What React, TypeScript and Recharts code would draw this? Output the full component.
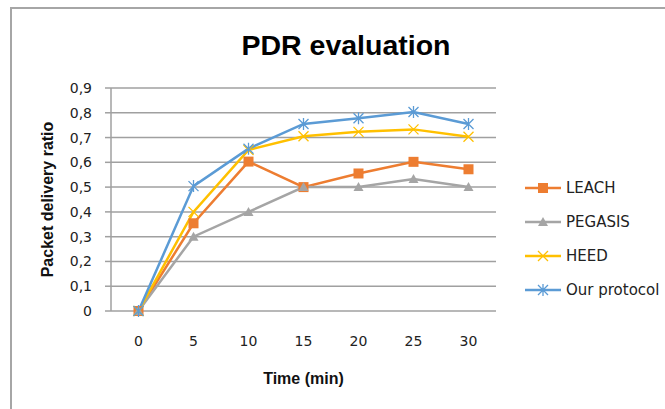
import React from 'react';
import { LineChart, Line, XAxis, YAxis, CartesianGrid, Legend } from 'recharts';

const times = [0, 5, 10, 15, 20, 25, 30];
const leach = [0, 0.354, 0.603, 0.5, 0.555, 0.602, 0.572];
const pegasis = [0, 0.3, 0.4, 0.5, 0.5, 0.533, 0.5];
const heed = [0, 0.4, 0.65, 0.705, 0.723, 0.733, 0.703];
const ours = [0, 0.504, 0.655, 0.755, 0.778, 0.803, 0.755];
const yTicks = [0, 0.1, 0.2, 0.3, 0.4, 0.5, 0.6, 0.7, 0.8, 0.9];
const xBoundaries = [-2.5, 2.5, 7.5, 12.5, 17.5, 22.5, 27.5, 32.5];

const data = times.map((t, i) => ({
  t,
  leach: leach[i],
  pegasis: pegasis[i],
  heed: heed[i],
  ours: ours[i],
}));

type Shape = 'square' | 'triangle' | 'x' | 'star';

const series: { key: string; name: string; color: string; shape: Shape }[] = [
  { key: 'leach', name: 'LEACH', color: '#ED7D31', shape: 'square' },
  { key: 'pegasis', name: 'PEGASIS', color: '#A5A5A5', shape: 'triangle' },
  { key: 'heed', name: 'HEED', color: '#FFC000', shape: 'x' },
  { key: 'ours', name: 'Our protocol', color: '#5B9BD5', shape: 'star' },
];

function Marker({ cx, cy, color, shape }: { cx: number; cy: number; color: string; shape: Shape }) {
  if (cx == null || cy == null) return null;
  if (shape === 'square') {
    return <rect x={cx - 5} y={cy - 5} width={10} height={10} fill={color} />;
  }
  if (shape === 'triangle') {
    return <polygon points={`${cx},${cy - 5} ${cx + 5},${cy + 4} ${cx - 5},${cy + 4}`} fill={color} />;
  }
  if (shape === 'x') {
    return (
      <path
        d={`M${cx - 5},${cy - 5}L${cx + 5},${cy + 5}M${cx - 5},${cy + 5}L${cx + 5},${cy - 5}`}
        stroke={color}
        strokeWidth={1.3}
        fill="none"
      />
    );
  }
  return (
    <path
      d={`M${cx - 5},${cy - 5}L${cx + 5},${cy + 5}M${cx - 5},${cy + 5}L${cx + 5},${cy - 5}M${cx},${cy - 6}L${cx},${cy + 6}`}
      stroke={color}
      strokeWidth={1.3}
      fill="none"
    />
  );
}

const LegendContent = () => (
  <div style={{ display: 'flex', flexDirection: 'column' }}>
    {series.map((s) => (
      <div key={s.key} style={{ height: 34, display: 'flex', alignItems: 'center' }}>
        <svg width={36} height={14} style={{ display: 'block' }}>
          <line x1={0} y1={7} x2={36} y2={7} stroke={s.color} strokeWidth={2.5} />
          <Marker cx={18} cy={7} color={s.color} shape={s.shape} />
        </svg>
        <span
          style={{
            marginLeft: 5,
            fontFamily: '"DejaVu Sans", sans-serif',
            fontSize: 15,
            color: '#222',
            whiteSpace: 'nowrap',
          }}
        >
          {s.name}
        </span>
      </div>
    ))}
  </div>
);

const fmt = (v: number) => (v === 0 ? '0' : v.toFixed(1).replace('.', ','));

export default function App() {
  return (
    <div
      style={{
        position: 'absolute',
        left: 0,
        top: 0,
        width: 665,
        height: 409,
        overflow: 'hidden',
        background: '#fff',
      }}
    >
      <div
        style={{
          position: 'absolute',
          left: 10,
          top: 7,
          width: 800,
          height: 600,
          borderLeft: '2px solid #a6a6a6',
          borderTop: '2px solid #a6a6a6',
        }}
      />
      <div
        style={{
          position: 'absolute',
          left: 0,
          top: 31,
          width: 692,
          textAlign: 'center',
          fontFamily: '"Liberation Sans", Arial, sans-serif',
          fontWeight: 'bold',
          fontSize: 28.5,
          lineHeight: '28px',
          color: '#000',
        }}
      >
        PDR evaluation
      </div>
      <div style={{ position: 'absolute', left: 0, top: 0 }}>
        <LineChart
          width={665}
          height={409}
          data={data}
          margin={{ top: 88, right: 169, bottom: 0, left: 0 }}
        >
          <CartesianGrid vertical={false} stroke="#a0a0a0" strokeWidth={1.5} />
          <XAxis
            xAxisId="b"
            dataKey="t"
            type="number"
            domain={[-2.5, 32.5]}
            ticks={xBoundaries}
            height={0}
            tick={false}
            tickSize={6}
            axisLine={{ stroke: '#a0a0a0', strokeWidth: 1.5 }}
            tickLine={{ stroke: '#a0a0a0', strokeWidth: 1.5 }}
          />
          <XAxis
            dataKey="t"
            type="number"
            domain={[-2.5, 32.5]}
            ticks={times}
            height={98}
            axisLine={false}
            tickLine={false}
            tickSize={6}
            tickMargin={19}
            interval={0}
            tick={{ fontFamily: '"DejaVu Sans", sans-serif', fontSize: 14, fill: '#222' }}
            label={{
              value: 'Time (min)',
              position: 'insideBottom',
              offset: 25,
              style: {
                fontFamily: '"Liberation Sans", Arial, sans-serif',
                fontWeight: 'bold',
                fontSize: 16,
                fill: '#111',
              },
            }}
          />
          <YAxis
            width={111}
            domain={[0, 0.9]}
            ticks={yTicks}
            interval={0}
            tickFormatter={fmt}
            tickSize={6}
            tickMargin={13}
            axisLine={{ stroke: '#a0a0a0', strokeWidth: 1.5 }}
            tickLine={{ stroke: '#a0a0a0', strokeWidth: 1.5 }}
            tick={{ fontFamily: '"DejaVu Sans", sans-serif', fontSize: 14, fill: '#222' }}
            label={{
              value: 'Packet delivery ratio',
              angle: -90,
              position: 'insideLeft',
              offset: 47,
              style: {
                textAnchor: 'middle',
                fontFamily: '"Liberation Sans", Arial, sans-serif',
                fontWeight: 'bold',
                fontSize: 16,
                fill: '#111',
              },
            }}
          />
          {series.map((s) => (
            <Line
              key={s.key}
              dataKey={s.key}
              name={s.name}
              stroke={s.color}
              strokeWidth={2.5}
              isAnimationActive={false}
              dot={(p: any) => (
                <Marker key={`${s.key}-${p.index}`} cx={p.cx} cy={p.cy} color={s.color} shape={s.shape} />
              )}
              activeDot={false}
            />
          ))}
          <Legend
            layout="vertical"
            align="center"
            verticalAlign="middle"
            content={LegendContent}
            wrapperStyle={{ left: 525, top: 171, width: 140 }}
          />
        </LineChart>
      </div>
    </div>
  );
}
